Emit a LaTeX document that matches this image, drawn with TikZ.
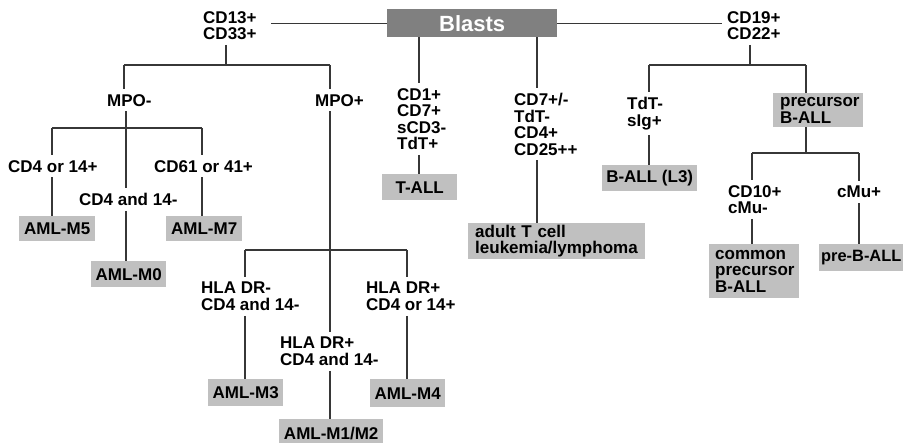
\documentclass[tikz,border=0pt]{standalone}
\usepackage{fontspec}
\setmainfont{Liberation Sans}
\definecolor{boxgray}{RGB}{192,192,192}
\definecolor{blastgray}{RGB}{128,128,128}
\definecolor{lineclr}{RGB}{55,55,55}
\begin{document}
\begin{tikzpicture}[x=1bp,y=-1bp,
  txt/.style={font=\bfseries\fontsize{17bp}{16.5bp}\selectfont},
  lbl/.style={txt, inner xsep=0pt, inner ysep=5bp, align=left, anchor=north west},
  box/.style={txt, fill=boxgray, inner ysep=0pt, inner xsep=0pt, anchor=north west},
  lbox/.style={box, align=left},
  blastbox/.style={fill=blastgray, text=white, anchor=north west, inner sep=0pt,
    font=\bfseries\fontsize{22bp}{22bp}\selectfont, minimum width=170bp, minimum height=28bp},
  ln/.style={draw=lineclr, line width=1.3bp}]
\useasboundingbox (0,0) rectangle (903,443);

% ---------- nodes ----------
\node[blastbox] (blasts) at (387,9) {Blasts};
\node[lbl] (cd13) at (203,6) {CD13+\\CD33+};
\node[lbl] (cd19) at (727,6) {CD19+\\CD22+};

\node[lbl] (mpom) at (107,89) {MPO-};
\node[lbl] (mpop) at (315,89) {MPO+};
\node[lbl] (cd4or) at (8,155) {CD4 or 14+};
\node[lbl] (cd4and) at (79,188) {CD4 and 14-};
\node[lbl] (cd61) at (154,155) {CD61 or 41+};
\node[box, minimum width=76bp, minimum height=25bp] (amlm5) at (19,216) {AML-M5};
\node[box, minimum width=75bp, minimum height=26bp] (amlm0) at (91,261) {AML-M0};
\node[box, minimum width=76bp, minimum height=25bp] (amlm7) at (166,216) {AML-M7};

\node[lbl] (hladrm) at (201,277) {HLA DR-\\CD4 and 14-};
\node[lbl] (hladrpa) at (280,332) {HLA DR+\\CD4 and 14-};
\node[lbl] (hladrpo) at (366,277) {HLA DR+\\CD4 or 14+};
\node[box, minimum width=75bp, minimum height=27bp] (amlm3) at (208,379) {AML-M3};
\node[box, minimum width=104bp, minimum height=29bp] (amlm12) at (279,419) {AML-M1/M2};
\node[box, minimum width=75bp, minimum height=28bp] (amlm4) at (370,379) {AML-M4};

\node[lbl] (tcol) at (397,83) {CD1+\\CD7+\\sCD3-\\TdT+};
\node[box, minimum width=75bp, minimum height=26bp] (tall) at (382,174) {T-ALL};

\node[lbl] (cd7col) at (514,88) {CD7+/-\\TdT-\\CD4+\\CD25++};
\node[lbox, inner xsep=7bp, text width=163bp, minimum height=36bp] (adult) at (468,223) {adult T cell\\leukemia/lymphoma};

\node[lbl] (tdt) at (627,92) {TdT-\\sIg+};
\node[box, minimum width=95bp, minimum height=26bp] (ball) at (602,165) {B-ALL (L3)};
\node[lbox, inner xsep=7bp, text width=76bp, minimum height=34bp] (prec) at (773,93) {precursor\\B-ALL};
\node[lbl] (cd10) at (728,180) {CD10+\\cMu-};
\node[lbl] (cmu) at (837,181) {cMu+};
\node[lbox, inner xsep=6bp, text width=78bp, minimum height=54bp] (common) at (709,244) {common\\precursor\\B-ALL};
\node[lbox, inner xsep=2bp, text width=86bp, minimum height=27bp,
  font=\bfseries\fontsize{16.4bp}{16.5bp}\selectfont] (preb) at (819,244) {pre-B-ALL};

% ---------- junctions ----------
\coordinate (j1) at (226,65);
\coordinate (j1l) at (124,65);
\coordinate (j1r) at (330,65);
\coordinate (j2) at (126,128);
\coordinate (j2l) at (52,128);
\coordinate (j2r) at (202,128);
\coordinate (j3) at (330,250);
\coordinate (j3l) at (245,250);
\coordinate (j3r) at (407,250);
\coordinate (jt) at (419,0);
\coordinate (jc) at (537,0);
\coordinate (j4) at (750,65);
\coordinate (j4l) at (649,65);
\coordinate (j4r) at (806,65);
\coordinate (j5) at (806,153);
\coordinate (j5l) at (752,153);
\coordinate (j5r) at (859,153);

% ---------- connectors ----------
\draw[ln] (blasts.west) -- ([xshift=14bp]cd13.east |- blasts.west);
\draw[ln] (blasts.east) -- ([xshift=-5bp]cd19.west |- blasts.east);

% myeloid
\draw[ln] (cd13.south -| j1) -- (j1);
\draw[ln] (j1l) -- (j1r);
\draw[ln] (j1l) -- (j1l |- mpom.north);
\draw[ln] (j1r) -- (j1r |- mpop.north);

\draw[ln] (mpom.south -| j2) -- (j2 |- cd4and.north);
\draw[ln] (j2l) -- (j2r);
\draw[ln] (j2l) -- (j2l |- cd4or.north);
\draw[ln] (j2r) -- (j2r |- cd61.north);
\draw[ln] (cd4or.south -| j2l) -- (j2l |- amlm5.north);
\draw[ln] (cd4and.south -| j2) -- (j2 |- amlm0.north);
\draw[ln] (cd61.south -| j2r) -- (j2r |- amlm7.north);

\draw[ln] (mpop.south -| j3) -- (j3 |- hladrpa.north);
\draw[ln] (j3l) -- (j3r);
\draw[ln] (j3l) -- (j3l |- hladrm.north);
\draw[ln] (j3r) -- (j3r |- hladrpo.north);
\draw[ln] (hladrm.south -| j3l) -- (j3l |- amlm3.north);
\draw[ln] (hladrpa.south -| j3) -- (j3 |- amlm12.north);
\draw[ln] (hladrpo.south -| j3r) -- (j3r |- amlm4.north);

% T lineage
\draw[ln] (blasts.south -| jt) -- (jt |- tcol.north);
\draw[ln] (tcol.south -| jt) -- (jt |- tall.north);
\draw[ln] (blasts.south -| jc) -- (jc |- cd7col.north);
\draw[ln] (cd7col.south -| jc) -- (jc |- adult.north);

% B lineage
\draw[ln] (cd19.south -| j4) -- (j4);
\draw[ln] (j4l) -- (j4r);
\draw[ln] (j4l) -- (j4l |- tdt.north);
\draw[ln] (j4r) -- (j4r |- prec.north);
\draw[ln] (tdt.south -| j4l) -- (j4l |- ball.north);
\draw[ln] (prec.south -| j5) -- (j5);
\draw[ln] (j5l) -- (j5r);
\draw[ln] (j5l) -- (j5l |- cd10.north);
\draw[ln] (j5r) -- (j5r |- cmu.north);
\draw[ln] (cd10.south -| j5l) -- (j5l |- common.north);
\draw[ln] (cmu.south -| j5r) -- (j5r |- preb.north);
\end{tikzpicture}
\end{document}
